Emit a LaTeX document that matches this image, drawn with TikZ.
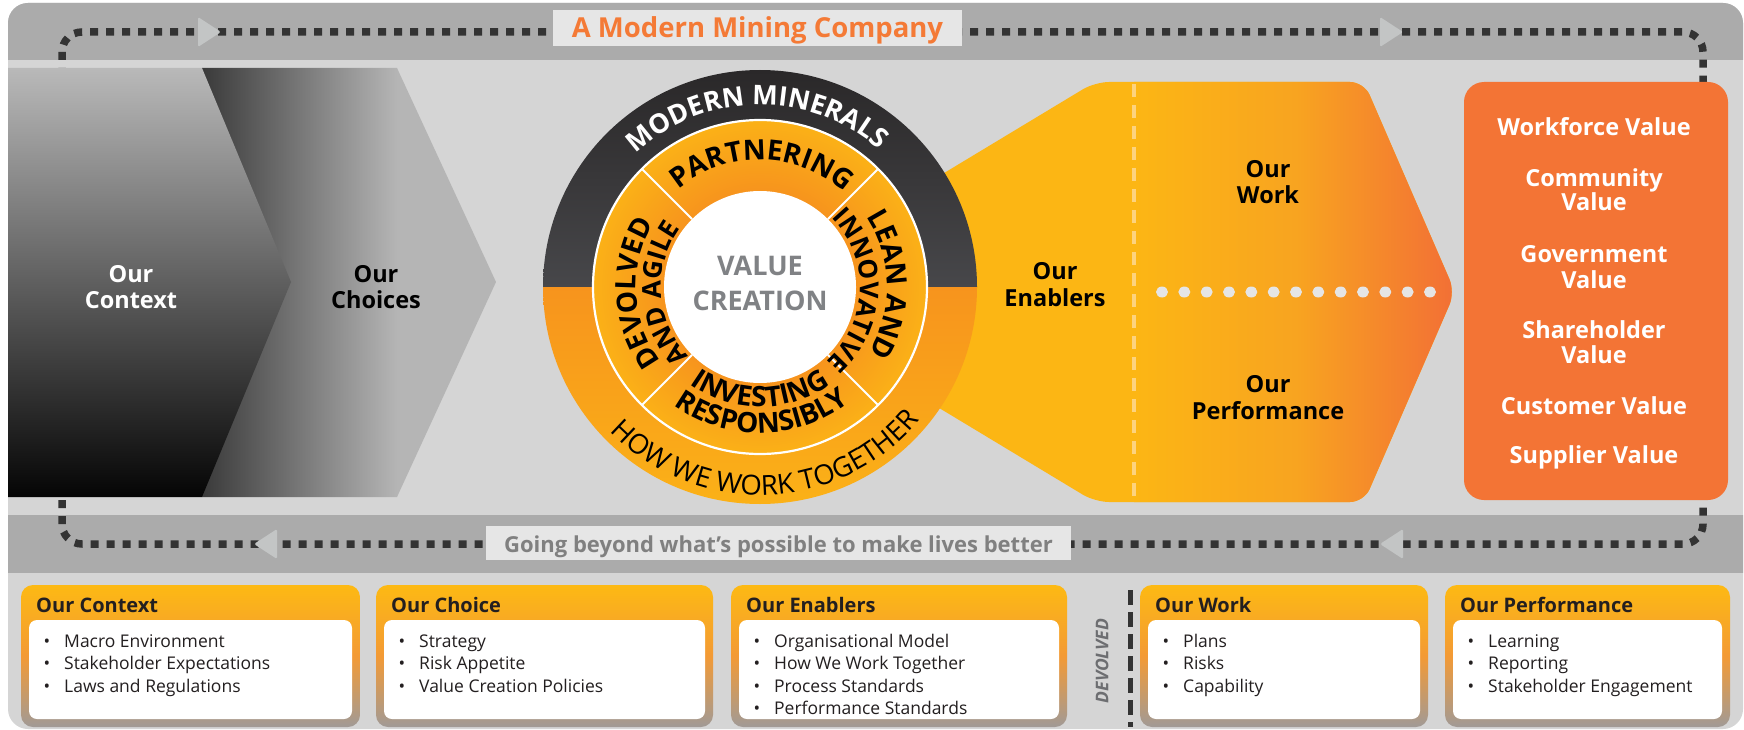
\documentclass[tikz,border=0pt]{standalone}
\usepackage{fontspec}
\setmainfont{Open Sans}
\usetikzlibrary{decorations.text}

% palette
\definecolor{framebg}{HTML}{D5D5D5}
\definecolor{bandgray}{HTML}{ABABAB}
\definecolor{dotdark}{HTML}{333333}
\definecolor{arrowgray}{HTML}{C3C5C5}
\definecolor{tagbg}{HTML}{E6E6E6}
\definecolor{brandorange}{HTML}{F47A36}
\definecolor{mottogray}{HTML}{808080}
\definecolor{ctxtop}{HTML}{B9B9B9}
\definecolor{ctxbot}{HTML}{050505}
\definecolor{choA}{HTML}{3A3A3A}
\definecolor{choB}{HTML}{B5B5B5}
\definecolor{ringtop}{HTML}{2A2829}
\definecolor{ringmid}{HTML}{47474A}
\definecolor{ringorange}{HTML}{F7941D}
\definecolor{ringyellow}{HTML}{FBB117}
\definecolor{coregray}{HTML}{808285}
\definecolor{funnelY}{HTML}{FCB614}
\definecolor{funnelM}{HTML}{F8A420}
\definecolor{funnelO}{HTML}{F26E36}
\definecolor{paleline}{HTML}{FDD37E}
\definecolor{dotwhite}{HTML}{E5E5E5}
\definecolor{valuebox}{HTML}{F37435}
\definecolor{inktext}{HTML}{231F20}
\definecolor{boxtop}{HTML}{FDB913}
\definecolor{boxmid}{HTML}{F39A35}
\definecolor{boxbot}{HTML}{A19A96}
\definecolor{devgray}{HTML}{6D6E71}

% orange band of the wheel: orange next to the core, yellow at the rim
\pgfdeclareradialshading{ringshade}{\pgfpoint{0bp}{0bp}}{color(0bp)=(ringorange); color(14.4bp)=(ringorange); color(25bp)=(ringyellow); color(50bp)=(ringyellow)}

\newcommand{\ringbf}{\fontsize{27}{27}\selectfont\bfseries}
\newcommand{\ringbfl}{\fontsize{28}{28}\selectfont\bfseries}
\newcommand{\ringbfs}{\fontsize{26}{26}\selectfont\bfseries}
\newcommand{\ringrm}{\fontsize{27.5}{28}\selectfont}

% one summary panel: name, left x, right x, title, bullet items
\newcommand{\panelbox}[5]{%
  \shade[top color=boxtop, bottom color=boxbot, middle color=boxmid, rounded corners=12pt] (#2,585) rectangle (#3,727);
  \fill[white, rounded corners=8pt] ({#2+8},620) rectangle ({#3-8},719);
  \node[paneltitle] (#1-title) at ({#2+15},612) {#4};
  \foreach \itm [count=\k] in {#5}{%
    \node[panelitem, anchor=base] (#1-bullet\k) at ({#2+26},{647+22.5*(\k-1)}) {•};
    \node[panelitem, anchor=base west] (#1-item\k) at ({#2+43},{647+22.5*(\k-1)}) {\itm};
  }%
}

\begin{document}
\begin{tikzpicture}[x=1pt, y=-1pt,
  bigbold/.style={font=\fontsize{23.5}{27}\selectfont\bfseries, inner sep=0pt, anchor=base},
  chevlight/.style={bigbold, text=white},
  chevdark/.style={bigbold, text=black},
  funneltext/.style={bigbold, text=black},
  valuetext/.style={bigbold, text=white},
  paneltitle/.style={font=\fontsize{20}{24}\selectfont\bfseries, text=inktext, inner sep=0pt, anchor=base west},
  panelitem/.style={font=\fontsize{17.5}{22}\selectfont, text=inktext, inner sep=0pt},
  dotloop/.style={draw=dotdark, line width=7.5pt, dash pattern=on 8pt off 8pt, rounded corners=20pt},
  flowtip/.style={fill=arrowgray, rounded corners=1.5pt},
  coretext/.style={font=\fontsize{27}{33}\selectfont\bfseries, text=coregray, inner sep=0pt, anchor=base}
]
\useasboundingbox (0,0) rectangle (1744,730);
\fill[white] (0,0) rectangle (1744,730);

% frame with its two grey bands
\begin{scope}
  \clip[rounded corners=20pt] (8,3) rectangle (1743,729);
  \fill[framebg] (0,0) rectangle (1744,730);
  \fill[bandgray] (0,0) rectangle (1744,60);
  \fill[bandgray] (0,515) rectangle (1744,573);
\end{scope}

% dotted loop around the model
\coordinate (loopNW) at (62,32);
\coordinate (loopSE) at (1703,544);
\draw[dotloop] (loopNW) rectangle (loopSE);

% direction marks on the loop
\fill[flowtip] (198,17) -- (221,32) -- (198,47) -- cycle;
\fill[flowtip] (1380,17) -- (1403,32) -- (1380,47) -- cycle;
\fill[flowtip] (277,529) -- (254,544) -- (277,559) -- cycle;
\fill[flowtip] (1403,529) -- (1380,544) -- (1403,559) -- cycle;

% labels on the loop
\node[fill=tagbg, minimum width=409pt, minimum height=36pt, inner sep=0pt, text height=19pt, text depth=0pt,
      text=brandorange, font=\fontsize{27.5}{30}\selectfont\bfseries] (motto) at (757.5,28) {A Modern Mining Company};
\node[fill=tagbg, minimum width=585pt, minimum height=34pt, inner sep=0pt, text height=20pt, text depth=0pt,
      text=mottogray, font=\fontsize{22}{26}\selectfont\bfseries] (purpose) at (778.5,542.5) {Going beyond what’s possible to make lives better};

% chevrons: context and choices
\begin{scope}
  \clip (200,68) -- (397,68) -- (496,282) -- (397,497) -- (200,497) -- cycle;
  \fill[choB] (200,68) rectangle (496,497);
  \shade[left color=choA, right color=choB] (202,68) rectangle (397,497);
\end{scope}
\shade[top color=ctxtop, bottom color=ctxbot] (8,68) -- (202,68) -- (291,282) -- (202,497) -- (8,497) -- cycle;
\node[chevlight] (ctx1) at (131,282) {Our};
\node[chevlight] (ctx2) at (131,308) {Context};
\node[chevdark] (cho1) at (376,282) {Our};
\node[chevdark] (cho2) at (376,308) {Choices};

% funnel behind the wheel
\fill[funnelY, rounded corners=14pt] (780,272) -- (1095,82) -- (1364,82) -- (1455,292) -- (1364,502) -- (1095,502) -- (780,312) -- cycle;
\begin{scope}
  \clip[rounded corners=14pt] (780,272) -- (1095,82) -- (1364,82) -- (1455,292) -- (1364,502) -- (1095,502) -- (780,312) -- cycle;
  \shade[left color=funnelY, right color=funnelO, middle color=funnelM] (1134,70) rectangle (1458,512);
\end{scope}
\coordinate (splitTop) at (1134,84);
\coordinate (splitBot) at (1134,500);
\draw[paleline, line width=4pt, dash pattern=on 13pt off 8pt] (splitTop) -- (splitBot);
\foreach \i in {0,...,12}
  \fill[dotwhite] ({1162+22.33*\i},292) ellipse [x radius=6pt, y radius=5.5pt];
\node[funneltext] (enb1) at (1055,279) {Our};
\node[funneltext] (enb2) at (1055,306) {Enablers};
\node[funneltext] (wrk1) at (1268,178) {Our};
\node[funneltext] (wrk2) at (1268,204) {Work};
\node[funneltext] (prf1) at (1268,392) {Our};
\node[funneltext] (prf2) at (1268,419) {Performance};

% the wheel
\begin{scope}[shift={(760,287)}, y=1pt]
  \shade[top color=ringtop, bottom color=ringmid] (217pt,0pt) arc[start angle=0, end angle=180, radius=217pt] -- cycle;
  \shade[top color=ringorange, bottom color=ringyellow] (-217pt,0pt) arc[start angle=180, end angle=360, radius=217pt] -- cycle;
  \shade[shading=ringshade] (0,0) circle[radius=167pt];
  \foreach \a in {45,135,225,315}
    \draw[white, line width=2pt] (\a:96pt) -- (\a:167pt);
  \draw[white, line width=2.2pt] (0,0) circle[radius=167pt];
  \fill[white] (0,0) circle[radius=96pt];

  \node[coretext] (core1) at (0,12) {VALUE};
  \node[coretext] (core2) at (0,-23) {CREATION};

  \path[decorate, decoration={text along path, text={|\ringbf|MODERN MINERALS}, text align=center, text color=white}]
    (181:182pt) arc[start angle=181, end angle=1, radius=182pt];
  \path[decorate, decoration={text along path, text={|\ringbfl|PARTNERING}, text align=center, text color=black}]
    (179:127pt) arc[start angle=179, end angle=-1, radius=127pt];
  \path[decorate, decoration={text along path, text={|\ringbfl|DEVOLVED}, text align=center, text color=black}]
    (273:124pt) arc[start angle=273, end angle=93, radius=124pt];
  \path[decorate, decoration={text along path, text={|\ringbfs|AND AGILE}, text align=center, text color=black}]
    (274:99pt) arc[start angle=274, end angle=94, radius=99pt];
  \path[decorate, decoration={text along path, text={|\ringbfl|LEAN AND}, text align=center, text color=black}]
    (91:127pt) arc[start angle=91, end angle=-89, radius=127pt];
  \path[decorate, decoration={text along path, text={|\ringbfs|INNOVATIVE}, text align=center, text color=black}]
    (88:100pt) arc[start angle=88, end angle=-92, radius=100pt];
  \path[decorate, decoration={text along path, text={|\ringbfl|INVESTING}, text align=center, text color=black}]
    (180:120pt) arc[start angle=180, end angle=360, radius=120pt];
  \path[decorate, decoration={text along path, text={|\ringbfl|RESPONSIBLY}, text align=center, text color=black}]
    (181:146pt) arc[start angle=181, end angle=361, radius=146pt];
  \path[decorate, decoration={text along path, text={|\ringrm|HOW WE WORK TOGETHER}, text align=center, text color=black}]
    (182:208pt) arc[start angle=182, end angle=362, radius=208pt];
\end{scope}

% value outcomes
\node[fill=valuebox, rounded corners=20pt, minimum width=264pt, minimum height=418pt, inner sep=0pt] (valuebox) at (1596,291) {};
\node[valuetext] (vWork) at (1594,136) {Workforce Value};
\node[valuetext] (vCom1) at (1594,186) {Community};
\node[valuetext] (vCom2) at (1594,211) {Value};
\node[valuetext] (vGov1) at (1594,262) {Government};
\node[valuetext] (vGov2) at (1594,288) {Value};
\node[valuetext] (vSha1) at (1594,338) {Shareholder};
\node[valuetext] (vSha2) at (1594,363) {Value};
\node[valuetext] (vCus) at (1594,414) {Customer Value};
\node[valuetext] (vSup) at (1594,463) {Supplier Value};

% summary panels
\panelbox{ctx}{21}{360}{Our Context}{Macro Environment,Stakeholder Expectations,Laws and Regulations}
\panelbox{cho}{376}{713}{Our Choice}{Strategy,Risk Appetite,Value Creation Policies}
\panelbox{enb}{731}{1067}{Our Enablers}{Organisational Model,How We Work Together,Process Standards,Performance Standards}
\panelbox{wrk}{1140}{1428}{Our Work}{Plans,Risks,Capability}
\panelbox{prf}{1445}{1730}{Our Performance}{Learning,Reporting,Stakeholder Engagement}

% devolved marker
\node[rotate=90, font=\fontsize{17.5}{20}\selectfont\bfseries\itshape, text=devgray, inner sep=0pt] (devolved) at (1102,661) {DEVOLVED};
\coordinate (devTop) at (1130,590);
\coordinate (devBot) at (1130,727);
\draw[dotdark, line width=5pt, dash pattern=on 15pt off 7pt] (devTop) -- (devBot);
\end{tikzpicture}
\end{document}
